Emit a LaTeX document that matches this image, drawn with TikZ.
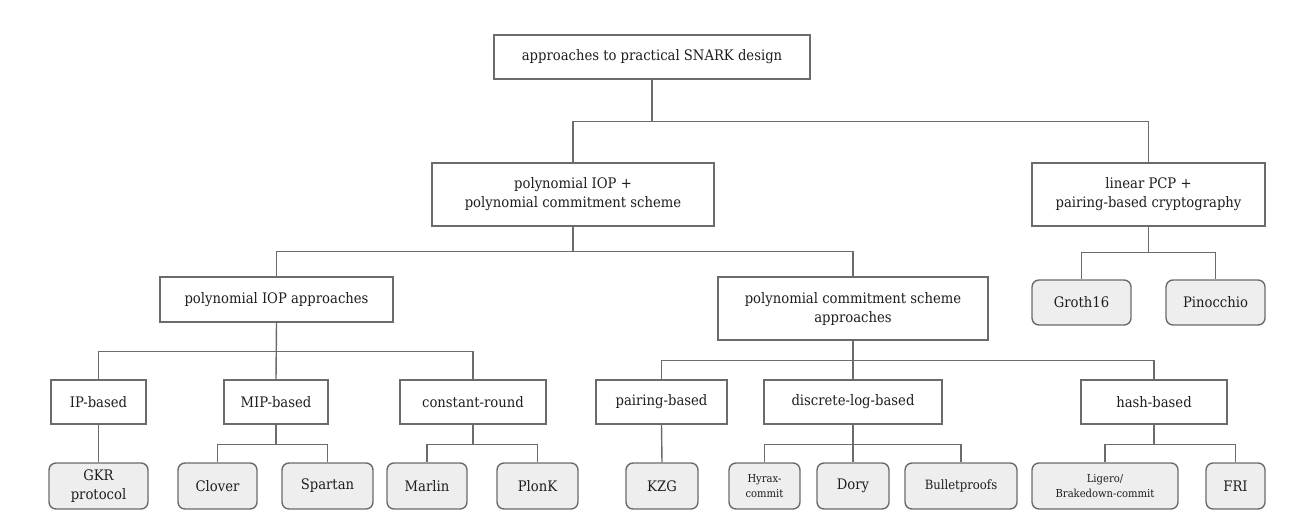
\documentclass[tikz,border=0pt]{standalone}
\usepackage{fontspec}
\setmainfont{DejaVu Serif}[FakeStretch=0.91]
\definecolor{edge}{HTML}{6B6B6B}
\definecolor{leaffill}{HTML}{EEEEEE}
\definecolor{txt}{HTML}{1E1E1E}
\begin{document}
\begin{tikzpicture}[x=1pt,y=-1pt,
  box/.style={draw=edge, line width=1.4pt, fill=white, inner sep=0pt, align=center, text=txt,
    font=\fontsize{14.5}{19}\selectfont},
  leaf/.style={box, fill=leaffill, rounded corners=7pt},
  small/.style={font=\fontsize{11}{14.5}\selectfont},
  mid/.style={font=\fontsize{12.8}{17}\selectfont},
  conn/.style={draw=edge, line width=1.4pt}]
\useasboundingbox (0,0) rectangle (1292,530);
% level 0
\node[box, minimum width=316pt, minimum height=44pt] (top) at (652,57) {approaches to practical SNARK design};
% level 1
\node[box, minimum width=282pt, minimum height=63pt] (piop) at (573,194.5) {polynomial IOP +\\polynomial commitment scheme};
\node[box, minimum width=233pt, minimum height=63pt] (lpcp) at (1148.5,194.5) {linear PCP +\\pairing-based cryptography};
% level 2
\node[box, minimum width=233pt, minimum height=45pt] (pioa) at (276.5,299.5) {polynomial IOP approaches};
\node[box, minimum width=270pt, minimum height=63pt] (pcsa) at (853,308.5) {polynomial commitment scheme\\approaches};
\node[leaf, minimum width=99pt, minimum height=45pt] (groth) at (1081.5,302.5) {Groth16};
\node[leaf, minimum width=99pt, minimum height=45pt] (pino) at (1215.5,302.5) {Pinocchio};
% level 3
\node[box, minimum width=95pt, minimum height=44pt] (ip) at (98.5,402) {IP-based};
\node[box, minimum width=104pt, minimum height=44pt] (mip) at (276,402) {MIP-based};
\node[box, minimum width=146pt, minimum height=44pt] (cr) at (473,402) {constant-round};
\node[box, minimum width=131pt, minimum height=44pt] (pb) at (661.5,402) {pairing-based};
\node[box, minimum width=178pt, minimum height=44pt] (dl) at (853,402) {discrete-log-based};
\node[box, minimum width=146pt, minimum height=44pt] (hb) at (1154,402) {hash-based};
% leaves
\node[leaf, minimum width=99pt, minimum height=46pt] (gkr) at (98.5,486) {GKR\\protocol};
\node[leaf, minimum width=79pt, minimum height=46pt] (clover) at (217.5,486) {Clover};
\node[leaf, minimum width=91pt, minimum height=46pt] (spartan) at (327.5,486) {Spartan};
\node[leaf, minimum width=80pt, minimum height=46pt] (marlin) at (427,486) {Marlin};
\node[leaf, minimum width=81pt, minimum height=46pt] (plonk) at (537.5,486) {PlonK};
\node[leaf, minimum width=72pt, minimum height=46pt] (kzg) at (662,486) {KZG};
\node[leaf, small, minimum width=71pt, minimum height=46pt] (hyrax) at (764.5,486) {Hyrax-\\commit};
\node[leaf, minimum width=72pt, minimum height=46pt] (dory) at (853,486) {Dory};
\node[leaf, mid, minimum width=112pt, minimum height=46pt] (bullet) at (961,486) {Bulletproofs};
\node[leaf, small, minimum width=146pt, minimum height=46pt] (ligero) at (1105,486) {Ligero/\\Brakedown-commit};
\node[leaf, minimum width=59pt, minimum height=46pt] (fri) at (1235.5,486) {FRI};
% connectors
\draw[conn] (top.south) -- ++(0,42) -| (piop.north);
\draw[conn] (top.south) -- ++(0,42) -| (lpcp.north);
\draw[conn] (piop.south) -- ++(0,25) -| (pioa.north);
\draw[conn] (piop.south) -- ++(0,25) -| (pcsa.north);
\draw[conn] (lpcp.south) -- ++(0,26) -| (groth.north);
\draw[conn] (lpcp.south) -- ++(0,26) -| (pino.north);
\draw[conn] (pioa.south) -- ++(0,29) -| (ip.north);
\draw[conn] (pioa.south) -- (mip.north);
\draw[conn] (pioa.south) -- ++(0,29) -| (cr.north);
\draw[conn] (pcsa.south) -- ++(0,20) -| (pb.north);
\draw[conn] (pcsa.south) -- (dl.north);
\draw[conn] (pcsa.south) -- ++(0,20) -| (hb.north);
\draw[conn] (ip.south) -- (gkr.north);
\draw[conn] (mip.south) -- ++(0,20) -| (clover.north);
\draw[conn] (mip.south) -- ++(0,20) -| (spartan.north);
\draw[conn] (cr.south) -- ++(0,20) -| (marlin.north);
\draw[conn] (cr.south) -- ++(0,20) -| (plonk.north);
\draw[conn] (pb.south) -- (kzg.north);
\draw[conn] (dl.south) -- ++(0,20) -| (hyrax.north);
\draw[conn] (dl.south) -- (dory.north);
\draw[conn] (dl.south) -- ++(0,20) -| (bullet.north);
\draw[conn] (hb.south) -- ++(0,20) -| (ligero.north);
\draw[conn] (hb.south) -- ++(0,20) -| (fri.north);
\end{tikzpicture}
\end{document}
